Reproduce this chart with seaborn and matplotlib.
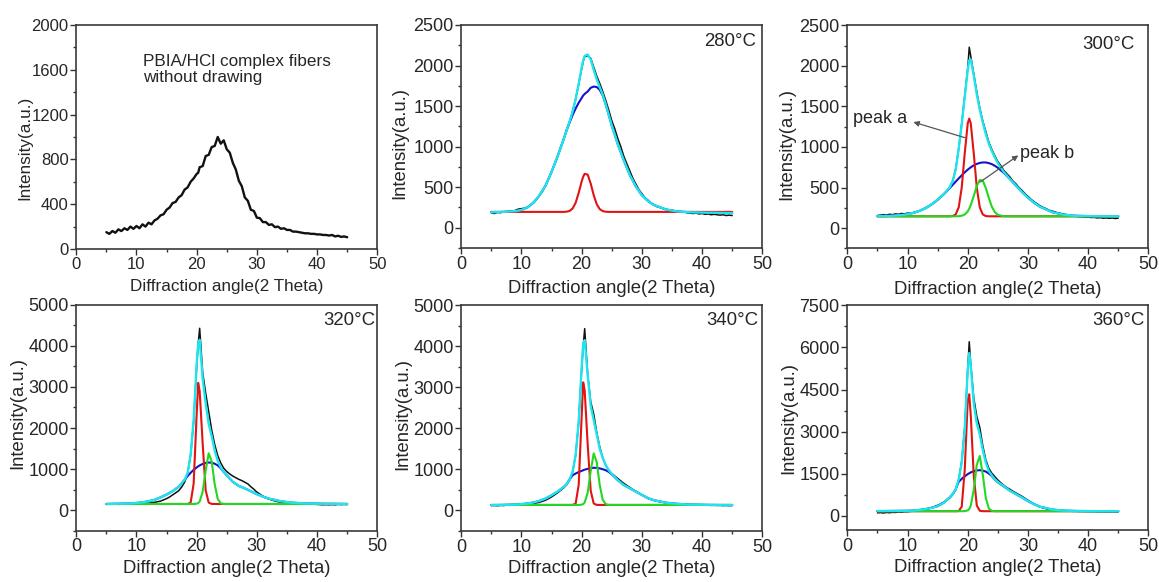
import matplotlib
matplotlib.use("Agg")
import matplotlib.pyplot as plt
from matplotlib.ticker import MultipleLocator, AutoMinorLocator
import seaborn as sns

sns.set_style("ticks")
plt.rcParams["font.family"] = ["Liberation Sans", "DejaVu Sans"]

# sampling positions (2 theta) of the measured patterns
RAW_X = [5, 5.5, 6, 6.5, 7, 7.5, 8, 8.5, 9, 9.5,
         10, 10.5, 11, 11.5, 12, 12.5, 13, 13.5, 14, 14.5,
         15, 15.5, 16, 16.5, 17, 17.5, 18, 18.5, 19, 19.5,
         20, 20.25, 20.5, 21, 21.5, 22, 22.5, 23, 23.5, 24, 24.5,
         25, 25.5, 26, 26.5, 27, 27.5, 28, 28.5, 29, 29.5,
         30, 30.5, 31, 31.5, 32, 32.5, 33, 33.5, 34, 34.5,
         35, 35.5, 36, 36.5, 37, 37.5, 38, 38.5, 39, 39.5,
         40, 40.5, 41, 41.5, 42, 42.5, 43, 43.5, 44, 44.5, 45]

# sampling positions of the fitted curves
FIT_X = [5, 7, 9, 10, 11, 12, 13, 14, 15, 16,
         17, 17.5, 18, 18.5, 19, 19.5, 20, 20.25, 20.5, 21,
         21.5, 22, 22.5, 23, 23.5, 24, 24.5, 25, 26, 27,
         28, 29, 30, 31, 32, 34, 36, 38, 41, 45]

# --- fibers without drawing ---
raw_undrawn = [150, 135, 160, 145, 175, 160, 185, 170, 200, 180,
               205, 185, 220, 200, 235, 220, 255, 270, 300, 310,
               350, 370, 410, 420, 460, 480, 530, 550, 600, 630,
               670, 680, 730, 740, 830, 840, 910, 920, 1000, 940, 970,
               890, 860, 770, 710, 610, 560, 460, 430, 350, 340,
               280, 275, 240, 240, 215, 220, 195, 200, 180, 185,
               170, 170, 155, 155, 150, 145, 140, 140, 135, 135,
               130, 130, 125, 125, 120, 125, 112, 118, 108, 112, 105]

# --- 280 C ---
raw_280 = [185, 175, 190, 185, 195, 190, 205, 200, 215, 230,
           235, 240, 255, 280, 310, 350, 400, 450, 520, 600,
           690, 780, 880, 990, 1090, 1210, 1310, 1440, 1590, 1770,
           1960, 2050, 2110, 2120, 2090, 1980, 1870, 1780, 1680, 1570, 1450,
           1320, 1220, 1100, 1000, 880, 790, 700, 610, 540, 470,
           420, 370, 340, 300, 285, 260, 250, 235, 225, 215,
           215, 200, 205, 190, 195, 185, 180, 175, 180, 170,
           175, 165, 170, 160, 165, 160, 155, 160, 150, 155, 150]
fit_280 = [190, 195, 205, 220, 250, 310, 400, 520, 690, 880,
           1090, 1203, 1312, 1433, 1583, 1774, 1976, 2064, 2120, 2135,
           2074, 1946, 1830, 1734, 1640, 1522, 1390, 1260, 1030, 830,
           650, 510, 400, 330, 280, 225, 200, 190, 185, 180]
broad_280 = [190, 195, 205, 220, 250, 310, 400, 520, 690, 880,
             1090, 1200, 1300, 1390, 1470, 1540, 1600, 1630, 1650, 1680,
             1725, 1740, 1735, 1700, 1630, 1520, 1390, 1260, 1030, 830,
             650, 510, 400, 330, 280, 225, 200, 190, 185, 180]
peak_a_280 = [195, 195, 195, 195, 195, 195, 195, 195, 195, 195,
              195, 198, 207, 238, 308, 429, 571, 629, 665, 654,
              544, 401, 290, 229, 205, 197, 195, 195, 195, 195,
              195, 195, 195, 195, 195, 195, 195, 195, 195, 195]

# --- 300 C ---
raw_300 = [155, 160, 165, 160, 170, 165, 175, 170, 180, 175,
           185, 180, 190, 200, 215, 230, 250, 270, 295, 320,
           350, 380, 415, 455, 505, 580, 730, 980, 1290, 1630,
           1970, 2230, 2120, 1900, 1680, 1480, 1320, 1190, 1060, 970, 890,
           820, 770, 710, 670, 630, 580, 545, 500, 465, 425,
           390, 355, 325, 300, 275, 255, 240, 220, 210, 200,
           185, 180, 170, 165, 155, 150, 145, 140, 140, 135,
           135, 130, 132, 125, 128, 122, 125, 120, 125, 118, 122]
fit_300 = [146, 150, 161, 171, 188, 212, 246, 292, 350, 418,
           500, 580, 720, 980, 1280, 1620, 1950, 2070, 2080, 1880,
           1650, 1460, 1300, 1160, 1040, 950, 870, 800, 690, 605,
           525, 446, 374, 313, 263, 197, 164, 151, 146, 145]
broad_300 = [146, 150, 161, 171, 188, 212, 246, 291, 348, 416,
             492, 532, 573, 612, 650, 687, 720, 735, 749, 773,
             791, 803, 809, 809, 801, 788, 768, 743, 680, 605,
             524, 446, 374, 313, 263, 197, 164, 151, 146, 145]
peak_a_300 = [145, 145, 145, 145, 145, 145, 145, 145, 145, 145,
              145, 148, 168, 255, 500, 921, 1292, 1350, 1292, 921,
              500, 255, 168, 148, 145, 145, 145, 145, 145, 145,
              145, 145, 145, 145, 145, 145, 145, 145, 145, 145]
peak_b_300 = [145, 145, 145, 145, 145, 145, 145, 145, 145, 145,
              145, 145, 145, 147, 152, 167, 206, 240, 283, 396,
              517, 593, 584, 494, 371, 264, 196, 163, 146, 145,
              145, 145, 145, 145, 145, 145, 145, 145, 145, 145]

# --- 320 C ---
raw_320 = [140, 150, 145, 150, 140, 150, 145, 150, 155, 150,
           160, 155, 160, 165, 170, 180, 190, 205, 220, 250,
           280, 320, 370, 420, 470, 560, 680, 900, 1350, 2150,
           3500, 4050, 4430, 3350, 2850, 2400, 1950, 1600, 1330, 1150, 1020,
           940, 880, 830, 790, 750, 720, 680, 640, 570, 510,
           440, 390, 340, 300, 270, 245, 225, 205, 195, 185,
           180, 170, 165, 160, 165, 160, 155, 150, 150, 145,
           140, 135, 130, 135, 130, 135, 130, 140, 135, 140, 135]
fit_320 = [150, 155, 165, 175, 190, 215, 250, 310, 380, 460,
           570, 650, 740, 900, 1350, 2200, 3550, 4050, 4150, 3200,
           2600, 2100, 1800, 1450, 1200, 1040, 930, 850, 690, 590,
           530, 460, 390, 330, 280, 215, 180, 165, 155, 150]
broad_320 = [150, 155, 165, 175, 190, 215, 250, 310, 380, 460,
             570, 650, 740, 830, 910, 980, 1040, 1065, 1090, 1125,
             1150, 1160, 1155, 1130, 1090, 1020, 930, 850, 690, 590,
             530, 460, 390, 330, 280, 215, 180, 165, 155, 150]
peak_a_320 = [150, 150, 150, 150, 150, 150, 150, 150, 150, 150,
              150, 150, 150, 150, 183, 645, 2330, 3100, 2900, 1617,
              481, 183, 151, 150, 150, 150, 150, 150, 150, 150,
              150, 150, 150, 150, 150, 150, 150, 150, 150, 150]
peak_b_320 = [150, 150, 150, 150, 150, 150, 150, 150, 150, 150,
              150, 150, 150, 150, 150, 150, 157, 172, 210, 449,
              966, 1385, 1184, 629, 273, 167, 151, 150, 150, 150,
              150, 150, 150, 150, 150, 150, 150, 150, 150, 150]

# --- 340 C ---
raw_340 = [120, 125, 115, 125, 120, 130, 125, 135, 130, 140,
           135, 145, 150, 160, 170, 185, 200, 225, 250, 290,
           330, 380, 430, 490, 550, 630, 740, 940, 1350, 2150,
           3450, 4000, 4430, 3300, 2650, 2350, 1900, 1550, 1280, 1100, 980,
           900, 840, 780, 720, 660, 610, 560, 510, 470, 420,
           380, 340, 300, 270, 250, 230, 215, 200, 190, 180,
           170, 165, 160, 150, 148, 142, 140, 135, 138, 132,
           135, 128, 130, 125, 128, 124, 126, 120, 124, 120, 122]
fit_340 = [130, 135, 145, 155, 170, 195, 235, 290, 370, 460,
           570, 640, 760, 950, 1350, 2150, 3500, 4050, 4150, 3300,
           2550, 2200, 1850, 1500, 1280, 1100, 980, 890, 740, 620,
           540, 460, 380, 300, 250, 190, 160, 145, 135, 130]
broad_340 = [130, 135, 145, 155, 170, 195, 235, 290, 370, 460,
             570, 640, 760, 860, 900, 935, 965, 980, 995, 1015,
             1030, 1040, 1038, 1025, 1005, 980, 940, 880, 740, 620,
             540, 460, 380, 300, 250, 190, 160, 145, 135, 130]
peak_a_340 = [135, 135, 135, 135, 135, 135, 135, 135, 135, 135,
              135, 135, 135, 135, 170, 620, 2300, 3120, 2920, 1600,
              480, 170, 136, 135, 135, 135, 135, 135, 135, 135,
              135, 135, 135, 135, 135, 135, 135, 135, 135, 135]
peak_b_340 = [135, 135, 135, 135, 135, 135, 135, 135, 135, 135,
              135, 135, 135, 135, 135, 135, 142, 157, 195, 435,
              960, 1390, 1180, 620, 260, 152, 136, 135, 135, 135,
              135, 135, 135, 135, 135, 135, 135, 135, 135, 135]

# --- 360 C ---
raw_360 = [110, 120, 105, 125, 115, 130, 125, 140, 135, 150,
           150, 165, 170, 185, 200, 220, 240, 270, 300, 340,
           380, 430, 490, 560, 640, 760, 940, 1300, 1950, 3150,
           5250, 6200, 5400, 4200, 3550, 3150, 2500, 2000, 1700, 1520, 1400,
           1280, 1180, 1090, 1010, 950, 880, 820, 760, 700, 630,
           560, 490, 430, 380, 330, 290, 260, 235, 215, 200,
           190, 180, 178, 170, 172, 165, 168, 160, 163, 157,
           160, 155, 158, 150, 155, 150, 152, 148, 150, 145, 148]
fit_360 = [175, 178, 182, 185, 195, 215, 245, 290, 350, 470,
           660, 780, 950, 1300, 1900, 3100, 5200, 5800, 5350, 4000,
           3300, 2900, 2350, 1900, 1600, 1440, 1310, 1210, 1060, 900,
           780, 660, 530, 420, 330, 230, 190, 178, 172, 168]
broad_360 = [175, 178, 182, 185, 195, 215, 245, 290, 350, 470,
             660, 780, 950, 1220, 1320, 1410, 1490, 1520, 1550, 1595,
             1620, 1630, 1615, 1580, 1510, 1420, 1300, 1200, 1050, 900,
             780, 660, 530, 420, 330, 230, 190, 178, 172, 168]
peak_a_360 = [170, 170, 170, 170, 170, 170, 170, 170, 170, 170,
              170, 170, 170, 175, 329, 1641, 4125, 4330, 3585, 1437,
              375, 185, 170, 170, 170, 170, 170, 170, 170, 170,
              170, 170, 170, 170, 170, 170, 170, 170, 170, 170]
peak_b_360 = [170, 170, 170, 170, 170, 170, 170, 170, 170, 170,
              170, 170, 170, 170, 170, 172, 198, 250, 365, 932,
              1816, 2136, 1469, 646, 266, 181, 170, 170, 170, 170,
              170, 170, 170, 170, 170, 170, 170, 170, 170, 170]

C_RAW = "#111111"
C_FIT = "#1de4ef"
C_BROAD = "#1414c8"
C_A = "#e01414"
C_B = "#22d822"


def line(ax, x, y, color, lw):
    sns.lineplot(x=x, y=y, ax=ax, color=color, linewidth=lw,
                 estimator=None, sort=False, legend=False)


def style_axes(ax, ylim, ystep, fs, ylab_x, ylab_y, xlab_y):
    ax.set_xlim(0, 50)
    ax.set_ylim(*ylim)
    ax.xaxis.set_major_locator(MultipleLocator(10))
    ax.xaxis.set_minor_locator(MultipleLocator(5))
    ax.yaxis.set_major_locator(MultipleLocator(ystep))
    ax.yaxis.set_minor_locator(AutoMinorLocator(2))
    ax.tick_params(which="both", direction="out", top=False, right=False,
                   labelsize=fs, width=1.0, color="#333333", pad=1.5)
    ax.tick_params(which="major", length=4)
    ax.tick_params(which="minor", length=2.5)
    for sp in ax.spines.values():
        sp.set_linewidth(1.2)
        sp.set_color("#3a3a3a")
    ax.set_xlabel("Diffraction angle(2 Theta)", fontsize=fs + 0.3)
    ax.set_ylabel("Intensity(a.u.)", fontsize=fs + 0.3)
    ax.xaxis.set_label_coords(0.5, xlab_y)
    ax.yaxis.set_label_coords(ylab_x, ylab_y)
    ax.xaxis.label.set_va("top")


fig = plt.figure(figsize=(11.59, 5.82), dpi=100)

W, H1, H2 = 0.2597, 0.3849, 0.388
ax1 = fig.add_axes([0.0658, 0.5722, W, H1])
ax2 = fig.add_axes([0.3980, 0.5739, W, H1 - 0.0017])
ax3 = fig.add_axes([0.7311, 0.5733, W, H1 - 0.0017])
ax4 = fig.add_axes([0.0658, 0.0882, W, H2])
ax5 = fig.add_axes([0.3980, 0.0876, W, H2])
ax6 = fig.add_axes([0.7311, 0.0893, W, H2 - 0.0017])

# panel 1: as-spun fibers
line(ax1, RAW_X, raw_undrawn, C_RAW, 1.7)
style_axes(ax1, (0, 2000), 400, 12, -0.147, 0.45, -0.135)
ax1.text(0.221, 0.80, "PBIA/HCl complex fibers\nwithout drawing",
         transform=ax1.transAxes, fontsize=12.3, ha="left", va="center",
         linespacing=1.1)

# panels with fitted peaks
panels = [
    (ax2, raw_280, fit_280, broad_280, peak_a_280, None, (-250, 2500), 500,
     "280°C", (0.978, 0.965), -0.177, 0.47),
    (ax3, raw_300, fit_300, broad_300, peak_a_300, peak_b_300, (-250, 2500), 500,
     "300°C", (0.956, 0.95), -0.174, 0.47),
    (ax4, raw_320, fit_320, broad_320, peak_a_320, peak_b_320, (-500, 5000), 1000,
     "320°C", (0.994, 0.97), -0.166, 0.52),
    (ax5, raw_340, fit_340, broad_340, peak_a_340, peak_b_340, (-500, 5000), 1000,
     "340°C", (0.988, 0.97), -0.166, 0.52),
    (ax6, raw_360, fit_360, broad_360, peak_a_360, peak_b_360, (-500, 7500), 1500,
     "360°C", (0.989, 0.97), -0.166, 0.50),
]

for ax, raw, fit, broad, pa, pb, ylim, ystep, temp, tpos, ylx, yly in panels:
    line(ax, RAW_X, raw, C_RAW, 1.1)
    line(ax, FIT_X, broad, C_BROAD, 1.5)
    line(ax, FIT_X, pa, C_A, 1.5)
    if pb is not None:
        line(ax, FIT_X, pb, C_B, 1.5)
    line(ax, FIT_X, fit, C_FIT, 1.7)
    xlab_y = -0.145 if ax in (ax2, ax3) else -0.128
    style_axes(ax, ylim, ystep, 13, ylx, yly, xlab_y)
    ax.text(tpos[0], tpos[1], temp, transform=ax.transAxes, fontsize=13.4,
            ha="right", va="top")

# peak labels in the 300 C panel
arrow = dict(arrowstyle="-|>", color="#555555", lw=0.9, mutation_scale=8,
             shrinkA=0, shrinkB=0)
ax3.text(0.9, 1350, "peak a", fontsize=13, ha="left", va="center")
ax3.annotate("", xy=(10.97, 1307), xytext=(19.55, 1114), arrowprops=arrow)
ax3.text(28.7, 921, "peak b", fontsize=13, ha="left", va="center")
ax3.annotate("", xy=(28.4, 896), xytext=(22.05, 567), arrowprops=arrow)

fig.savefig("out.png", dpi=100)
